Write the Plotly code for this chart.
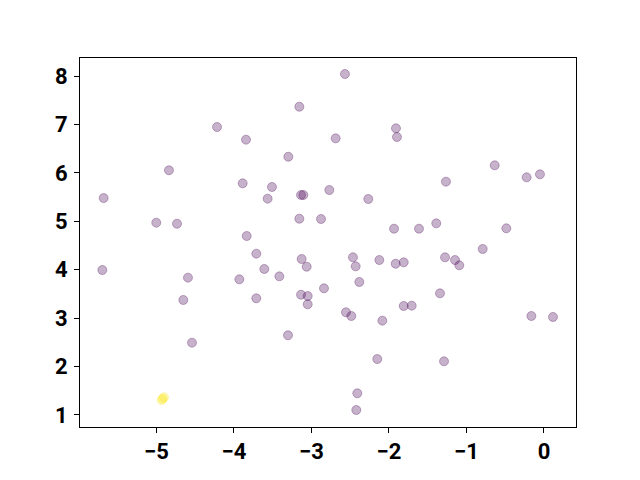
import plotly.graph_objects as go

# purple cluster (label 0)
x0 = [-3.157, -4.219, -3.845, -3.299, -4.839, -3.888, -3.510, -3.566, -3.135, -3.105,
      -5.682, -2.770, -5.003, -4.735, -3.157, -2.877, -3.836, -2.568, -1.910, -1.897,
      -2.688, -0.636, -0.224, -0.052, -1.265, -2.267, -1.935, -1.613, -1.390, -0.486,
      -3.712, -3.127, -5.699, -3.609, -3.062, -4.594, -3.931, -3.415, -2.839, -4.654,
      -3.712, -3.135, -3.049, -3.049, -3.303, -4.542, -0.791, -2.465, -2.430, -2.125,
      -1.914, -1.810, -1.277, -1.148, -1.093, -2.383, -1.342, -1.810, -1.707, -2.555,
      -2.486, -2.086, -0.163, 0.116, -2.151, -1.290, -2.409, -2.422]
y0 = [7.366, 6.947, 6.685, 6.333, 6.053, 5.784, 5.708, 5.467, 5.543, 5.543,
      5.480, 5.646, 4.971, 4.950, 5.053, 5.047, 4.696, 8.041, 6.920, 6.740,
      6.713, 6.156, 5.908, 5.970, 5.818, 5.460, 4.847, 4.847, 4.958, 4.855,
      4.331, 4.221, 3.994, 4.015, 4.062, 3.836, 3.801, 3.863, 3.616, 3.375,
      3.410, 3.484, 3.457, 3.286, 2.646, 2.493, 4.428, 4.256, 4.070, 4.200,
      4.124, 4.152, 4.256, 4.200, 4.091, 3.746, 3.512, 3.251, 3.257, 3.121,
      3.044, 2.948, 3.044, 3.024, 2.156, 2.108, 1.448, 1.103]

# yellow cluster (label 1)
x1 = [-4.933, -4.903, -4.920]
y1 = [1.310, 1.365, 1.335]

purple = "rgba(68,1,84,0.3)"
yellow = "rgba(253,231,37,0.3)"

fig = go.Figure()
fig.add_trace(go.Scatter(x=x0, y=y0, mode="markers",
                         marker=dict(size=9, color=purple, line=dict(width=1, color=purple)),
                         showlegend=False, hoverinfo="skip"))
fig.add_trace(go.Scatter(x=x1, y=y1, mode="markers",
                         marker=dict(size=9, color=yellow, line=dict(width=1, color=yellow)),
                         showlegend=False, hoverinfo="skip"))

axis_common = dict(showgrid=False, zeroline=False, showline=True, linecolor="black",
                   linewidth=1, mirror=True, ticks="outside", ticklen=5, tickwidth=1,
                   tickcolor="black",
                   tickfont=dict(family="Roboto", size=22, color="black", weight="bold"))

fig.update_xaxes(range=[-5.987, 0.413], tickvals=[-5, -4, -3, -2, -1, 0],
                 ticktext=["−5", "−4", "−3", "−2", "−1", "0"], **axis_common)
fig.update_yaxes(range=[0.752, 8.372], tickvals=[1, 2, 3, 4, 5, 6, 7, 8],
                 ticklabelstandoff=2, **axis_common)

fig.update_layout(width=640, height=480, margin=dict(l=72, r=72, t=50, b=61, pad=0),
                  plot_bgcolor="white", paper_bgcolor="white")

fig.write_html("out.html")
